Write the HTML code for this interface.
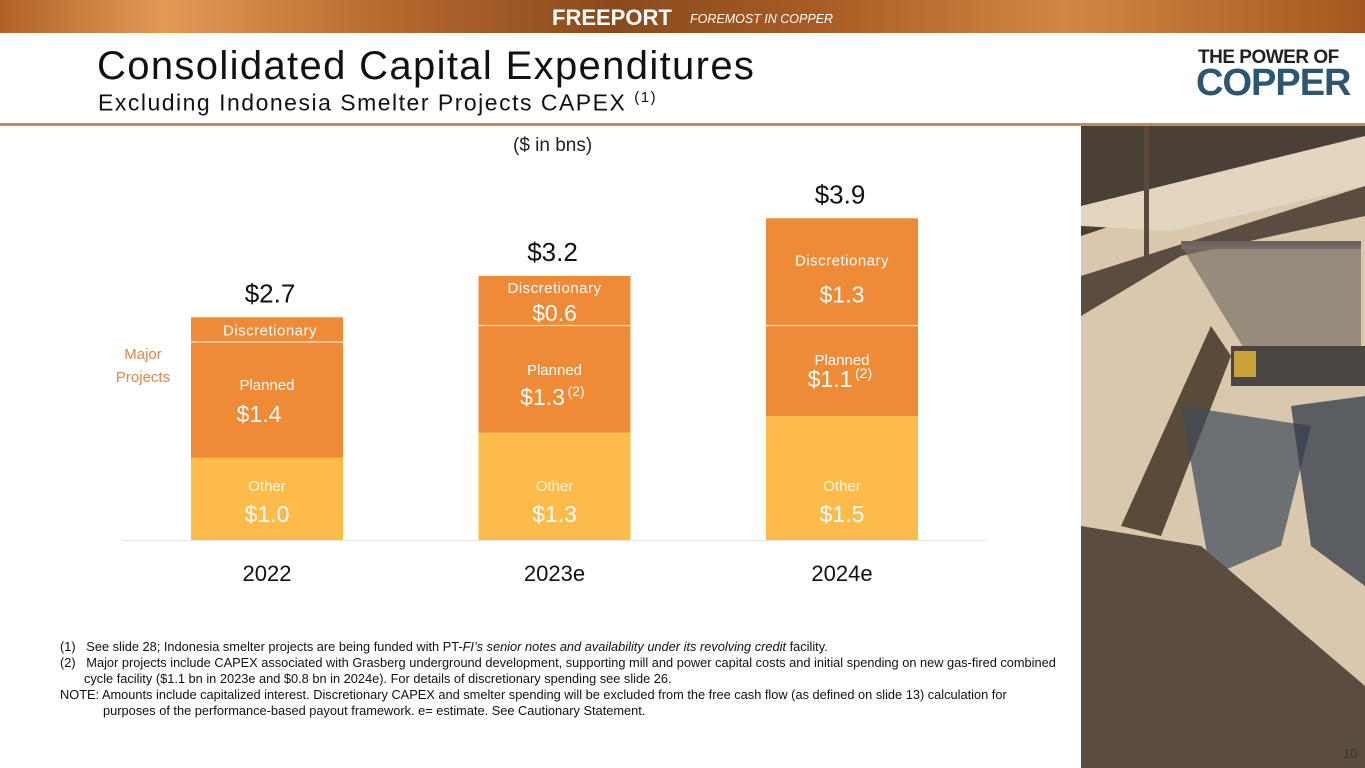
<!DOCTYPE html>
<html><head><meta charset="utf-8"><style>
body{margin:0;width:1365px;height:768px;position:relative;overflow:hidden;background:#fff;font-family:"Liberation Sans",sans-serif}
.abs{position:absolute}
</style></head><body>
<div class="abs" style="left:0;top:0;width:1365px;height:33px;background:linear-gradient(90deg,#b0622a 0%,#e39a55 12%,#b76a30 28%,#8a4a1c 45%,#a85c25 60%,#d08845 78%,#a3571f 100%)">
<div class="abs" style="left:552px;top:5px;color:#fff;font-weight:bold;font-size:22px;letter-spacing:0px">FREEPORT</div>
<div class="abs" style="left:690px;top:12px;color:#fff;font-style:italic;font-size:12.5px">FOREMOST IN COPPER</div>
</div>
<div class="abs" style="left:97px;top:44px;font-size:40px;color:#111;letter-spacing:1.35px">Consolidated Capital Expenditures</div>
<div class="abs" style="left:98px;top:89px;font-size:23px;color:#111;letter-spacing:1.5px">Excluding Indonesia Smelter Projects CAPEX <sup style="font-size:15px">(1)</sup></div>
<div class="abs" style="left:1198px;top:47px;font-size:19px;font-weight:bold;color:#222;letter-spacing:-0.5px">THE POWER OF</div>
<div class="abs" style="left:1196px;top:62px;font-size:38px;font-weight:bold;color:#2d5670;letter-spacing:-1px">COPPER</div>
<div class="abs" style="left:0;top:123px;width:1365px;height:3px;background:#c98a55"></div>
<svg class="abs" style="left:1081px;top:126px" width="284" height="642">
<rect width="284" height="642" fill="#d9c8ae"/>
<path d="M0,0 L284,0 L284,30 L150,60 L0,110 Z" fill="#4a4038"/>
<path d="M0,80 L284,10 L284,60 L90,105 L0,100 Z" fill="#e3d5bf"/>
<path d="M0,150 L284,60 L284,90 L100,130 L0,190Z" fill="#5a4c40"/>
<rect x="63" y="0" width="5" height="135" fill="#5a4a3c"/>
<rect x="100" y="115" width="180" height="8" fill="#6a6560"/>
<path d="M100,120 L180,250 L280,250 L280,120Z" fill="#7a7066" opacity="0.7"/>
<rect x="150" y="220" width="134" height="40" fill="#4a4540"/>
<rect x="153" y="225" width="22" height="26" fill="#c9a33a"/>
<path d="M130,200 L40,400 L80,410 L150,230Z" fill="#5a4a3a"/>
<path d="M100,280 L230,300 L200,420 L130,450Z" fill="#3f4a58" opacity="0.7"/>
<path d="M210,280 L284,270 L284,460 L230,420Z" fill="#2f3a48" opacity="0.75"/>
<path d="M0,400 L120,420 L284,560 L284,642 L0,642Z" fill="#5a4d40"/>
<text x="262" y="632" font-size="13" fill="#333" font-family="Liberation Sans">10</text>
</svg>
<div class="abs" style="left:513px;top:135px;font-size:19px;color:#222">($ in bns)</div>
<svg class="abs" id="chart" style="left:0;top:0" width="1080" height="620"></svg>
<div class="abs" style="left:60px;top:639px;font-size:12.8px;color:#111;line-height:16px;width:1020px;white-space:nowrap">
<div>(1)&nbsp;&nbsp; See slide 28; Indonesia smelter projects are being funded with PT-<i>FI’s senior notes and availability under its revolving credit</i> facility.</div>
<div>(2)&nbsp;&nbsp; Major projects include CAPEX associated with Grasberg underground development, supporting mill and power capital costs and initial spending on new gas-fired combined</div>
<div style="padding-left:24px">cycle facility ($1.1 bn in 2023e and $0.8 bn in 2024e). For details of discretionary spending see slide 26.</div>
<div>NOTE: Amounts include capitalized interest. Discretionary CAPEX and smelter spending will be excluded from the free cash flow (as defined on slide 13) calculation for</div>
<div style="padding-left:43px">purposes of the performance-based payout framework. e= estimate. See Cautionary Statement.</div>
</div>
<script>
const categories=["2022","2023e","2024e"];
const otherVals=[1.0,1.3,1.5];
const plannedVals=[1.4,1.3,1.1];
const discVals=[0.3,0.6,1.3];
const totalLabels=["$2.7","$3.2","$3.9"];
const otherLabels=["$1.0","$1.3","$1.5"];
const plannedLabels=["$1.4","$1.3","$1.1"];
const discLabels=["","$0.6","$1.3"];
const plannedSup=["","(2)","(2)"];
const svg=document.getElementById('chart');
const NS='http://www.w3.org/2000/svg';
const base=540,scale=82.5,barW=152;
const y=v=>base-v*scale;
const xc=i=>267+i*287.5;
function mk(t,a){const e=document.createElementNS(NS,t);for(const k in a)e.setAttribute(k,a[k]);svg.appendChild(e);return e;}
function txt(s,x,yy,size,fill){const e=mk('text',{x:x,y:yy,'font-size':size,fill:fill,'text-anchor':'middle','font-family':'Liberation Sans, sans-serif'});e.textContent=s;return e;}
const ax=mk('line',{x1:122,x2:986,y1:base+0.5,y2:base+0.5,stroke:'#e4e4e4','stroke-width':1});


const pLabOff=[-10,-4,-6], pValOff=[22,26,16];
categories.forEach((c,i)=>{
  const x0=xc(i)-barW/2;
  const o=otherVals[i],p=plannedVals[i],d=discVals[i];
  const r1=mk('rect',{x:x0,y:y(o),width:barW,height:o*scale,fill:'#fdbb4a'});
  
  
  const r2=mk('rect',{x:x0,y:y(o+p),width:barW,height:p*scale,fill:'#ef8a37'});
  
  
  const r3=mk('rect',{x:x0,y:y(o+p+d),width:barW,height:d*scale,fill:'#ef8a37'});
  
  
  mk('line',{x1:x0,x2:x0+barW,y1:y(o+p),y2:y(o+p),stroke:'#fbe0c8','stroke-width':1.2});
  const cx=xc(i);
  const ot=txt('Other',cx,base-49,15,'#fff6e0');
  const ov=txt(otherLabels[i],cx,base-18,23,'#fff');
  const pm=(y(o)+y(o+p))/2;
  const pt=txt('Planned',cx,pm+pLabOff[i],15,'#fff');
  const pv=txt(plannedLabels[i],cx-(i?12:8),pm+pValOff[i],23,'#fff');
  if(plannedSup[i]){const s=mk('text',{x:cx+13,y:pm+pValOff[i]-9,'font-size':14,fill:'#fff','font-family':'Liberation Sans, sans-serif'});s.textContent=plannedSup[i];}
  const dt=y(o+p+d);
  const dl=txt('Discretionary',cx+(i==0?3:0),d<0.4?dt+18:dt+(i==1?17:47),15,'#fff');dl.setAttribute('letter-spacing','0.5');
  if(discLabels[i]){const dv=txt(discLabels[i],cx,i==1?dt+45:dt+84,23,'#fff');}
  const tl=txt(totalLabels[i],cx+(i==0?3:-2),dt-15,26,'#111');
  const cl=txt(c,cx,581,22,'#111');
});
const m1=txt('Major',143,359,15,'#d9884a');
txt('Projects',143,382,15,'#d9884a');
</script>
</body></html>
